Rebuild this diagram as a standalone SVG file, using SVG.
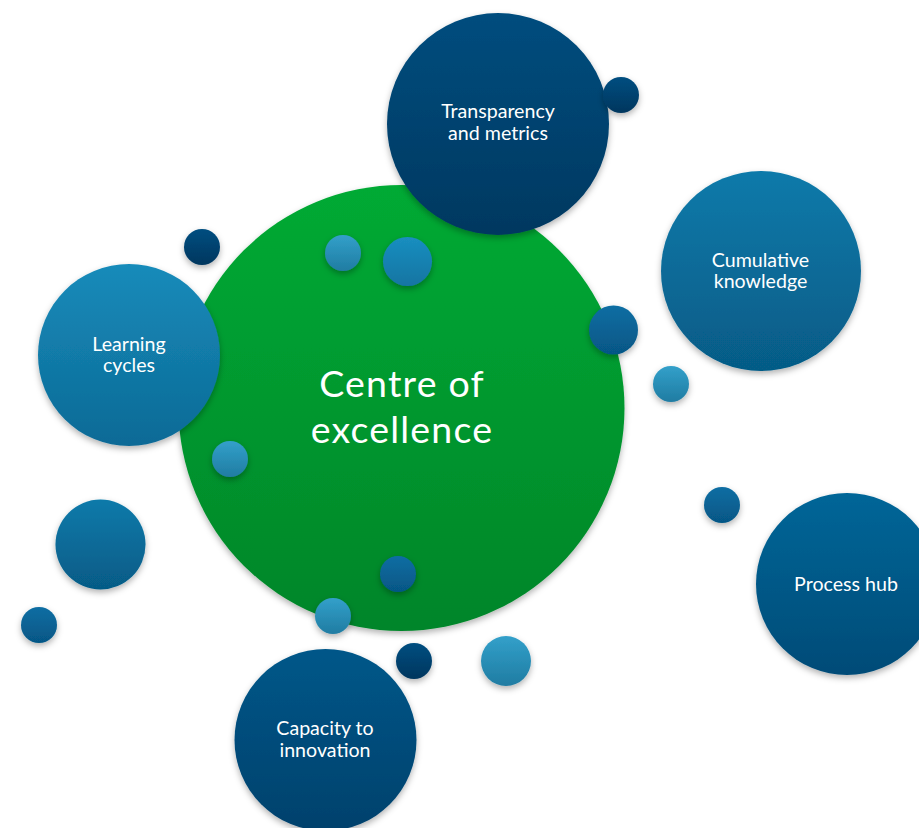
<svg xmlns="http://www.w3.org/2000/svg" width="919" height="828" viewBox="0 0 919 828">
<style>
  .lbl { font-family: "Lato", "Liberation Sans", sans-serif; fill: #ffffff; text-anchor: middle; font-size: 19.6px; }
  .big { font-size: 37.5px; letter-spacing: 1.2px; }
  .c { filter: url(#sh); }
</style>
<defs>
  <filter id="sh" x="-20%" y="-20%" width="140%" height="150%">
    <feDropShadow dx="0" dy="3" stdDeviation="3" flood-color="#000000" flood-opacity="0.3"/>
  </filter>
  <linearGradient id="gGreen" x1="0" y1="0" x2="0" y2="1"><stop offset="0" stop-color="#00AA34"/><stop offset="1" stop-color="#008529"/></linearGradient>
  <linearGradient id="gNavy" x1="0" y1="0" x2="0" y2="1"><stop offset="0" stop-color="#004D7E"/><stop offset="1" stop-color="#003860"/></linearGradient>
  <linearGradient id="gCap" x1="0" y1="0" x2="0" y2="1"><stop offset="0" stop-color="#005789"/><stop offset="1" stop-color="#00416C"/></linearGradient>
  <linearGradient id="gHub" x1="0" y1="0" x2="0" y2="1"><stop offset="0" stop-color="#006698"/><stop offset="1" stop-color="#004B77"/></linearGradient>
  <linearGradient id="gMed" x1="0" y1="0" x2="0" y2="1"><stop offset="0" stop-color="#168BBA"/><stop offset="1" stop-color="#0D6A96"/></linearGradient>
  <linearGradient id="gCum" x1="0" y1="0" x2="0" y2="1"><stop offset="0" stop-color="#0B7AAA"/><stop offset="1" stop-color="#065B86"/></linearGradient>
  <linearGradient id="gLight" x1="0" y1="0" x2="0" y2="1"><stop offset="0" stop-color="#32A0CA"/><stop offset="1" stop-color="#207CA2"/></linearGradient>
  <linearGradient id="gSky" x1="0" y1="0" x2="0" y2="1"><stop offset="0" stop-color="#1A8EC0"/><stop offset="1" stop-color="#1375A2"/></linearGradient>
  <linearGradient id="gBlue" x1="0" y1="0" x2="0" y2="1"><stop offset="0" stop-color="#0A6EA3"/><stop offset="1" stop-color="#065685"/></linearGradient>
  <linearGradient id="gDark" x1="0" y1="0" x2="0" y2="1"><stop offset="0" stop-color="#004E80"/><stop offset="1" stop-color="#00365E"/></linearGradient>
</defs>

<g id="connectors"></g>

<g id="centre">
  <circle class="c" cx="401.5" cy="408" r="223" fill="url(#gGreen)"/>
  <text class="lbl big" x="402" y="397">Centre of</text>
  <text class="lbl big" x="402" y="443">excellence</text>
</g>

<g id="transparency">
  <circle class="c" cx="498" cy="124" r="111" fill="url(#gNavy)"/>
  <text class="lbl"><tspan x="498" y="118">Transparency</tspan><tspan x="498" y="140">and metrics</tspan></text>
</g>

<g id="learning">
  <circle class="c" cx="129" cy="355" r="91" fill="url(#gMed)"/>
  <text class="lbl"><tspan x="129" y="351">Learning</tspan><tspan x="129" y="372">cycles</tspan></text>
</g>

<g id="cumulative">
  <circle class="c" cx="761" cy="271" r="100" fill="url(#gCum)"/>
  <text class="lbl"><tspan x="760.5" y="267">Cumulative</tspan><tspan x="760.5" y="288">knowledge</tspan></text>
</g>

<g id="process">
  <circle class="c" cx="847" cy="584" r="91" fill="url(#gHub)"/>
  <text class="lbl" x="846" y="591">Process hub</text>
</g>

<g id="capacity">
  <circle class="c" cx="325.5" cy="740" r="91" fill="url(#gCap)"/>
  <text class="lbl"><tspan x="325" y="735">Capacity to</tspan><tspan x="325" y="757">innovation</tspan></text>
</g>

<g id="bubbles">
  <circle class="c" cx="621" cy="95" r="18" fill="url(#gDark)"/>
  <circle class="c" cx="202" cy="247" r="18" fill="url(#gDark)"/>
  <circle class="c" cx="343" cy="253" r="18" fill="url(#gLight)"/>
  <circle class="c" cx="407.5" cy="261.5" r="24.5" fill="url(#gSky)"/>
  <circle class="c" cx="613.5" cy="330" r="24.5" fill="url(#gBlue)"/>
  <circle class="c" cx="230" cy="459" r="18" fill="url(#gLight)"/>
  <circle class="c" cx="398" cy="574" r="18" fill="url(#gBlue)"/>
  <circle class="c" cx="333" cy="616" r="18" fill="url(#gLight)"/>
  <circle class="c" cx="671" cy="384" r="18" fill="url(#gLight)"/>
  <circle class="c" cx="722" cy="505" r="18" fill="url(#gBlue)"/>
  <circle class="c" cx="100.5" cy="544.5" r="45" fill="url(#gCum)"/>
  <circle class="c" cx="39" cy="625" r="18" fill="url(#gBlue)"/>
  <circle class="c" cx="414" cy="661" r="18" fill="url(#gDark)"/>
  <circle class="c" cx="506" cy="661" r="25" fill="url(#gLight)"/>
</g>
</svg>
